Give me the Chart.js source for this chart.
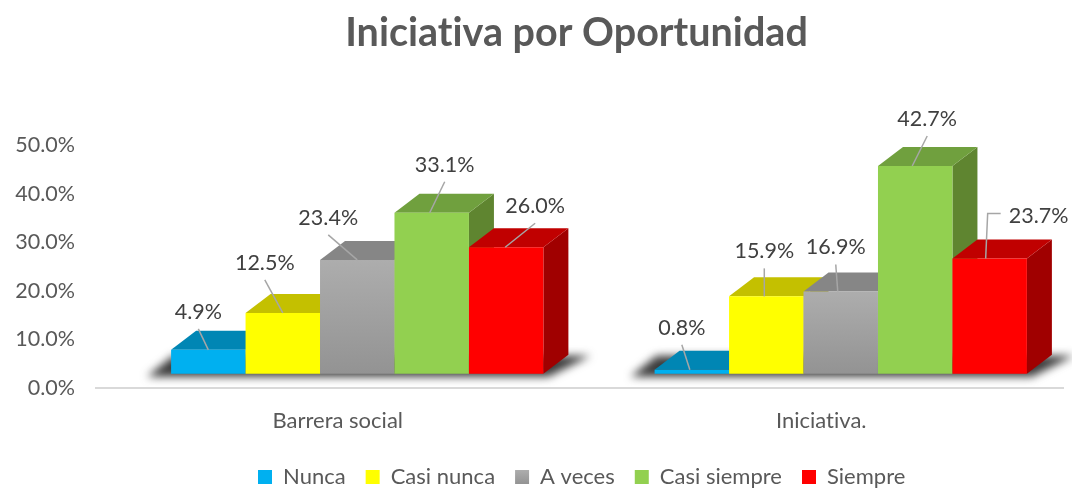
<!DOCTYPE html>
<html>
<head>
<meta charset="utf-8">
<title>Iniciativa por Oportunidad</title>
<script src="https://cdn.jsdelivr.net/npm/chart.js@4"></script>
<style>
    html, body { margin: 0; padding: 0; background: #ffffff; }
    canvas { display: block; }
</style>
</head>
<body>
<canvas id="chart" width="1072" height="488"></canvas>
<script>
const categories = ['Barrera social', 'Iniciativa.'];
const nunca = [4.9, 0.8];
const casiNunca = [12.5, 15.9];
const aVeces = [23.4, 16.9];
const casiSiempre = [33.1, 42.7];
const siempre = [26.0, 23.7];

// label position relative to its bar: [dx, dy, where the leader hits the bar]
const labelNunca = [[-10, -38, 0], [-10, -42, -2]];
const labelCasiNunca = [[-18, -50, 0], [-2, -45, -2]];
const labelAVeces = [[-29, -42, 0], [-5, -44, -3]];
const labelCasiSiempre = [[13, -48, -2], [12, -47, -3]];
const labelSiempre = [[29, -41, -1], [49, -42, -4]];

const barShift = 19.5;
const depthX = 25;
const depthY = 19;
const fontName = 'Lato, "Open Sans", sans-serif';

function grayGradient(ctx, top, bottom) {
    const g = ctx.createLinearGradient(0, top, 0, bottom);
    g.addColorStop(0, '#adadad');
    g.addColorStop(1, '#939393');
    return g;
}

const bars3d = {
    id: 'bars3d',
    beforeDraw(chart) {
        // stops the "ti" ligature in Lato
        chart.ctx.letterSpacing = '0.01px';
    },
    afterLayout(chart) {
        // title and legend sit right of the page centre in the original
        chart.titleBlock.left += 45;
        chart.titleBlock.right += 45;
        chart.legend.left += 50;
        chart.legend.right += 50;
    },
    beforeDatasetsDraw(chart) {
        const ctx = chart.ctx;
        const first = chart.getDatasetMeta(0).data;
        const last = chart.getDatasetMeta(4).data;

        // blurred floor shadow under each group of bars
        ctx.save();
        ctx.filter = 'blur(4px)';
        ctx.fillStyle = '#3c3c3c';
        first.forEach((bar, i) => {
            const x0 = bar.x - bar.width / 2 + barShift;
            const x1 = last[i].x + last[i].width / 2 + barShift;
            const y = bar.base;
            ctx.beginPath();
            ctx.moveTo(x0 - 24, y + 3);
            ctx.lineTo(x1 + 5, y + 3);
            ctx.lineTo(x1 + 47, y - depthY + 1);
            ctx.lineTo(x0 + 2, y - depthY + 1);
            ctx.closePath();
            ctx.fill();
        });
        ctx.restore();

        // left to right, so each bar covers the side of the one before
        chart.data.datasets.forEach((ds, d) => {
            const meta = chart.getDatasetMeta(d);
            ctx.save();
            ctx.translate(barShift, 0);
            meta.data.forEach(bar => {
                const left = bar.x - bar.width / 2;
                const right = bar.x + bar.width / 2;
                ctx.fillStyle = ds.sideColor;
                ctx.beginPath();
                ctx.moveTo(right, bar.y);
                ctx.lineTo(right + depthX, bar.y - depthY);
                ctx.lineTo(right + depthX, bar.base - depthY);
                ctx.lineTo(right, bar.base);
                ctx.closePath();
                ctx.fill();
                ctx.fillStyle = ds.topColor;
                ctx.beginPath();
                ctx.moveTo(left, bar.y);
                ctx.lineTo(left + depthX, bar.y - depthY);
                ctx.lineTo(right + depthX, bar.y - depthY);
                ctx.lineTo(right, bar.y);
                ctx.closePath();
                ctx.fill();
            });
            meta.controller.draw();
            ctx.restore();
        });
    },
    beforeDatasetDraw() {
        return false; // already drawn above
    },
    afterDatasetsDraw(chart) {
        // data labels with their leader lines, on top of all bars
        const ctx = chart.ctx;
        ctx.save();
        ctx.font = '21.5px ' + fontName;
        ctx.textAlign = 'center';
        ctx.textBaseline = 'middle';
        chart.data.datasets.forEach((ds, d) => {
            chart.getDatasetMeta(d).data.forEach((bar, i) => {
                const [dx, dy, hit] = ds.labelPos[i];
                const cx = bar.x + barShift;
                const lx = cx + dx;
                const ly = bar.y + dy;
                ctx.strokeStyle = '#a6a6a6';
                ctx.lineWidth = 1.5;
                ctx.beginPath();
                if (dx > 40) {
                    ctx.moveTo(lx - 38, ly - 3);
                    ctx.lineTo(lx - 51, ly - 3);
                } else {
                    ctx.moveTo(lx, ly + 17);
                }
                ctx.lineTo(cx + hit, bar.y);
                ctx.stroke();
                ctx.fillStyle = '#404040';
                ctx.fillText(ds.data[i].toFixed(1) + '%', lx, ly);
            });
        });
        ctx.restore();
    }
};

function makeSeries(label, data, color, topColor, sideColor, labelPos) {
    return { label, data, backgroundColor: color, topColor, sideColor, labelPos,
        xAxisID: 'x', yAxisID: 'yBars', borderWidth: 0,
        categoryPercentage: 0.77, barPercentage: 1 };
}

const chart = new Chart(document.getElementById('chart'), {
    type: 'bar',
    data: {
        labels: categories,
        datasets: [
            makeSeries('Nunca', nunca, '#00b0f0', '#0086b4', '#006f98', labelNunca),
            makeSeries('Casi nunca', casiNunca, '#ffff00', '#c4c000', '#a8a500', labelCasiNunca),
            makeSeries('A veces', aVeces, c => {
                const s = c.chart.scales.yBars;
                if (!s || c.raw === undefined) return '#a5a5a5';
                const top = s.getPixelForValue(c.raw);
                const bottom = s.getPixelForValue(0);
                if (!Number.isFinite(top) || !Number.isFinite(bottom)) return '#a5a5a5';
                return grayGradient(c.chart.ctx, top, bottom);
            }, '#868686', '#727272', labelAVeces),
            makeSeries('Casi siempre', casiSiempre, '#92d050', '#70a03e', '#5f8530', labelCasiSiempre),
            makeSeries('Siempre', siempre, '#ff0000', '#c00000', '#a00000', labelSiempre)
        ]
    },
    options: {
        responsive: false,
        animation: false,
        layout: { padding: { left: 0, right: 9, top: 0, bottom: -10 } },
        scales: {
            x: {
                grid: { display: false },
                border: { color: '#d9d9d9', width: 2 },
                ticks: { color: '#595959', font: { family: fontName, size: 22 }, padding: 12 }
            },
            y: {
                position: 'left',
                min: 0,
                max: 50,
                grid: { display: false },
                border: { display: false },
                ticks: {
                    stepSize: 10,
                    color: '#595959',
                    padding: 13,
                    font: { family: fontName, size: 21.5 },
                    callback: v => v.toFixed(1) + '%'
                },
                afterFit(scale) { scale.width = 96; }
            },
            yBars: { display: false, min: -2.857, max: 46.94 }
        },
        plugins: {
            title: {
                display: true,
                text: 'Iniciativa por Oportunidad',
                color: '#595959',
                font: { family: fontName, size: 39.5, weight: 'bold' },
                padding: { top: 10, bottom: 88 }
            },
            legend: {
                position: 'bottom',
                labels: {
                    color: '#595959',
                    font: { family: fontName, size: 22 },
                    boxWidth: 14,
                    boxHeight: 14,
                    padding: 20,
                    generateLabels(c) {
                        const items = Chart.defaults.plugins.legend.labels.generateLabels(c);
                        items.forEach(it => { it.lineWidth = 0; it.strokeStyle = 'transparent'; });
                        items[2].fillStyle = grayGradient(c.ctx, 470, 484);
                        return items;
                    }
                }
            },
            tooltip: { enabled: false }
        }
    },
    plugins: [bars3d]
});
</script>
</body>
</html>
